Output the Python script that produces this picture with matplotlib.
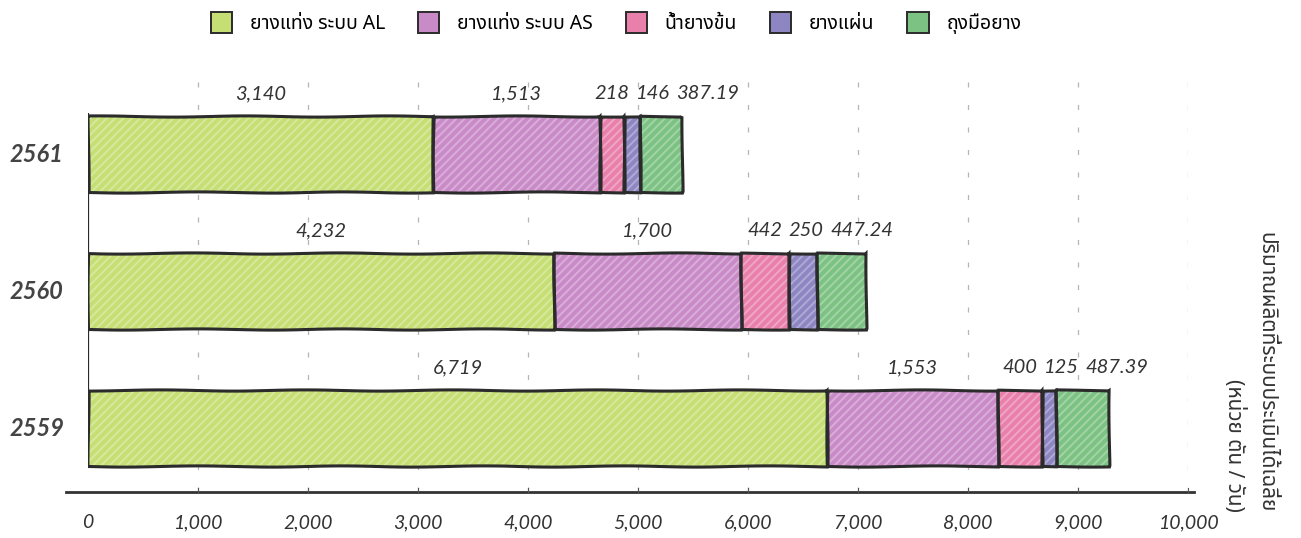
import matplotlib
matplotlib.use("Agg")
import matplotlib.pyplot as plt
from matplotlib import font_manager
from matplotlib.ft2font import FT2Font
from matplotlib.patches import Patch
import numpy as np

# ---------------- data ----------------
years = ["2559", "2560", "2561"]
series_names = ["ยางแท่ง ระบบ AL", "ยางแท่ง ระบบ AS", "น้ำยางข้น", "ยางแผ่น", "ถุงมือยาง"]
al = [6719, 4232, 3140]
as_ = [1553, 1700, 1513]
latex = [400, 442, 218]
sheet = [125, 250, 146]
gloves = [487.39, 447.24, 387.19]
value_labels = [
    ["6,719", "1,553", "400", "125", "487.39"],
    ["4,232", "1,700", "442", "250", "447.24"],
    ["3,140", "1,513", "218", "146", "387.19"],
]
xticks = [0, 1000, 2000, 3000, 4000, 5000, 6000, 7000, 8000, 9000, 10000]
xtick_labels = ["0", "1,000", "2,000", "3,000", "4,000", "5,000", "6,000", "7,000", "8,000", "9,000", "10,000"]
ylabel_line1 = "ปริมาณผลิตที่ระบบประเมินได้เฉลี่ย"
ylabel_line2 = "(หน่วย ตัน / วัน)"

colors = ["#c6df74", "#c98bc8", "#e97fab", "#8d86c3", "#7cc283"]
edge = "#2b2b2b"

# ---------------- fonts ----------------
def find_thai_font():
    preferred = ["Noto Sans Thai", "Noto Sans Thai Looped", "Loma", "Garuda", "Sawasdee",
                 "Tlwg Typo", "Umpush", "Waree", "Kinnari", "Norasi", "Purisa"]
    names = {}
    for f in font_manager.fontManager.ttflist:
        try:
            ft = FT2Font(f.fname)
            if ft.get_char_index(0x0E22) and ft.get_char_index(0x0E32):
                names[f.name] = True
        except Exception:
            pass
    for p in preferred:
        if p in names:
            return p
    return next(iter(names), None)

thai = find_thai_font()
num_font = "Lato"
fam = [thai, "DejaVu Sans"] if thai else ["DejaVu Sans"]
plt.rcParams["font.family"] = fam
plt.rcParams["hatch.linewidth"] = 1.4

# ---------------- figure ----------------
W, H = 1301, 538
fig = plt.figure(figsize=(W / 100, H / 100), dpi=100)
ax = fig.add_axes([88 / W, 1 - 492 / H, (1188 - 88) / W, (492 - 75) / H])

y = np.arange(len(years))
bar_h = 0.56
series = [al, as_, latex, sheet, gloves]

# gridlines
for t in xticks[1:]:
    ax.axvline(t, color="#b5b5b5", lw=0.9, ls=(0, (4, 14)), zorder=0)

left = np.zeros(len(years))
for vals, c in zip(series, colors):
    vals = np.array(vals, dtype=float)
    ax.barh(y, vals, left=left, height=bar_h, color=c, edgecolor="none", zorder=2)
    ax.barh(y, vals, left=left, height=bar_h, color="none", edgecolor="#ffffff",
            hatch="////", lw=0, alpha=0.3, zorder=3)
    bars = ax.barh(y, vals, left=left, height=bar_h, color="none", edgecolor=edge,
                   lw=2.2, zorder=4)
    for b in bars:
        b.set_sketch_params(scale=0.6, length=150, randomness=1.5)
    left += vals

# left vertical line
ax.plot([0, 0], [-0.1, 2.3], color=edge, lw=1.6, zorder=5, solid_capstyle="butt")

ax.set_xlim(0, 10000)
ax.set_ylim(-0.467, 2.577)
ax.set_yticks([])
ax.set_xticks([])
for s in ax.spines.values():
    s.set_visible(False)

# x axis line (extends beyond axes)
ax.plot([-200, 10050], [-0.467, -0.467], color="#333333", lw=2.0, clip_on=False, zorder=5)
for t in xticks[1:]:
    ax.plot([t, t], [-0.467, -0.44], color="#555555", lw=0.8, clip_on=False, zorder=5)
for t, lab in zip(xticks, xtick_labels):
    ax.text(t, -0.69, lab, ha="center", va="center", fontsize=14, style="italic",
            family=[num_font, "DejaVu Sans"], color="#333333", clip_on=False)

# year labels
for yi, yr in zip(y, years):
    ax.text(-710, yi, yr, ha="left", va="center", fontsize=17, style="italic", weight="bold",
            family=[num_font, "DejaVu Sans"], color="#444444", clip_on=False)

# value labels with overlap avoidance
fig.canvas.draw()
renderer = fig.canvas.get_renderer()
inv = ax.transData.inverted()
for row, yi in enumerate(y):
    lefts = np.concatenate([[0], np.cumsum([s[row] for s in series])[:-1]])
    widths = np.array([s[row] for s in series], dtype=float)
    centers = lefts + widths / 2
    prev_right = -1e9
    for k, (cx, lab) in enumerate(zip(centers, value_labels[row])):
        t = ax.text(cx, yi + bar_h / 2 + 0.16, lab, ha="center", va="center", fontsize=14.5,
                    style="italic", family=[num_font, "DejaVu Sans"], color="#333333", zorder=6)
        bb = t.get_window_extent(renderer)
        x0 = inv.transform((bb.x0, 0))[0]
        x1 = inv.transform((bb.x1, 0))[0]
        w = x1 - x0
        gap = 60
        if x0 < prev_right + gap:
            cx = prev_right + gap + w / 2
            t.set_x(cx)
        prev_right = cx + w / 2

# legend
handles = [Patch(facecolor=c, edgecolor=edge, lw=1.4) for c in colors]
fig.legend(handles, series_names, loc="upper center", bbox_to_anchor=(616 / W, 1.01), ncol=5,
           frameon=False, fontsize=14, handlelength=1.1, handleheight=1.3,
           columnspacing=1.7, handletextpad=0.9)

# right-side rotated label
fig.text(1266 / W, 1 - 512 / H, ylabel_line1, rotation=-90, ha="center", va="bottom",
         fontsize=15, style="italic", color="#333333")
fig.text(1234 / W, 1 - 512 / H, ylabel_line2, rotation=-90, ha="center", va="bottom",
         fontsize=15, style="italic", color="#333333")

fig.savefig("out.png", dpi=100)
